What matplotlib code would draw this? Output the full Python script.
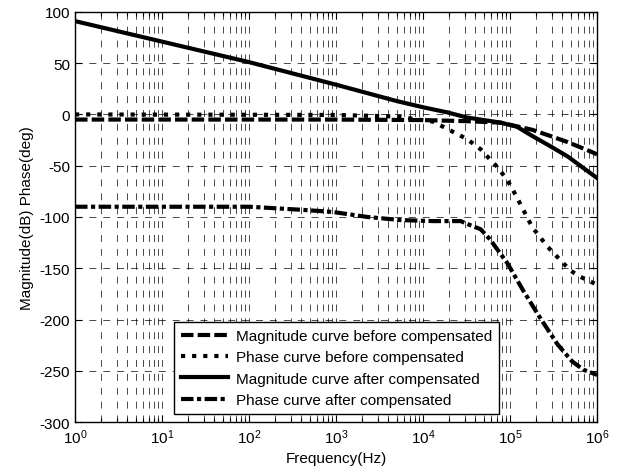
import matplotlib
matplotlib.use("Agg")
import matplotlib.pyplot as plt
from matplotlib.ticker import LogLocator, NullFormatter

plt.rcParams['font.family'] = ['Liberation Sans', 'DejaVu Sans']
plt.rcParams['axes.unicode_minus'] = False
plt.rcParams['lines.scale_dashes'] = False

# magnitude before compensation (dB)
mag_before_f = [1, 1e3, 1e4, 3e4, 7.8e4, 1.8e5, 2.9e5, 4.6e5, 8.9e5, 1e6]
mag_before = [-5, -5, -5.5, -6.5, -8, -15, -21, -27, -37, -39]

# phase before compensation (deg)
phase_before_f = [1, 1e3, 5e3, 1.3e4, 1.7e4, 3.2e4, 4.6e4, 5.9e4, 7.1e4, 9.3e4,
                  1.15e5, 1.4e5, 1.8e5, 2.7e5, 3.5e5, 4.9e5, 6.3e5, 1e6]
phase_before = [0, -0.5, -2, -7, -12, -24, -34, -44, -51, -64,
                -78, -92, -110, -129, -139, -152, -158, -166]

# magnitude after compensation (dB)
mag_after_f = [1, 10, 100, 1e3, 5e3, 1e4, 1.9e4, 3.2e4, 7.8e4, 1.2e5, 1.8e5,
               2.9e5, 4.6e5, 6.9e5, 1e6]
mag_after = [91, 71, 51, 29, 13, 7, 2, -3, -8, -12, -21, -31, -41, -52, -62]

# phase after compensation (deg)
phase_after_f = [1, 100, 160, 400, 900, 2.3e3, 5.5e3, 1.3e4, 2.7e4, 3.5e4,
                 4.6e4, 5.9e4, 9.3e4, 1.4e5, 2.2e5, 3.5e5, 5.2e5, 7e5, 1e6]
phase_after = [-90, -90, -91, -93, -95, -100, -103, -104, -104, -108,
               -112, -122, -145, -171, -198, -224, -241, -249, -254]

labels = ["Magnitude curve before compensated",
          "Phase curve before compensated",
          "Magnitude curve after compensated",
          "Phase curve after compensated"]

fig = plt.figure(figsize=(6.2, 4.77), dpi=100)
ax = fig.add_axes([0.121, 0.113, 0.842, 0.860])

lw = 3
ax.semilogx(mag_before_f, mag_before, color='black', lw=lw,
            dashes=(9, 3), label=labels[0])
ax.semilogx(phase_before_f, phase_before, color='black', lw=lw,
            dashes=(3, 5), label=labels[1])
ax.semilogx(mag_after_f, mag_after, color='black', lw=lw,
            linestyle='-', label=labels[2])
ax.semilogx(phase_after_f, phase_after, color='black', lw=lw,
            dashes=(9, 2.5, 3, 2.5), label=labels[3])

ax.set_xlim(1, 1e6)
ax.set_ylim(-300, 100)
ax.set_yticks(range(-300, 101, 50))
ax.xaxis.set_major_locator(LogLocator(base=10, numticks=10))
ax.xaxis.set_minor_locator(LogLocator(base=10, subs=range(2, 10), numticks=100))
ax.xaxis.set_minor_formatter(NullFormatter())

ax.grid(True, which='major', color='black', lw=0.5, dashes=(5, 5))
ax.grid(True, which='minor', axis='x', color='black', lw=0.5, dashes=(5, 5))

ax.tick_params(which='both', direction='in', top=True, right=True,
               labelsize=11, width=0.8)
ax.tick_params(which='major', length=5)
ax.tick_params(which='minor', length=3)
for s in ax.spines.values():
    s.set_linewidth(1)

ax.set_xlabel("Frequency(Hz)", fontsize=11)
ax.set_ylabel("Magnitude(dB) Phase(deg)", fontsize=11)

leg = ax.legend(loc='lower right', bbox_to_anchor=(0.812, 0.02),
                borderaxespad=0, fontsize=11, fancybox=False, framealpha=1,
                edgecolor='black', handlelength=3.1, labelspacing=0.48,
                borderpad=0.45, handletextpad=0.5)
leg.get_frame().set_linewidth(1)

fig.savefig("out.png", dpi=100)
